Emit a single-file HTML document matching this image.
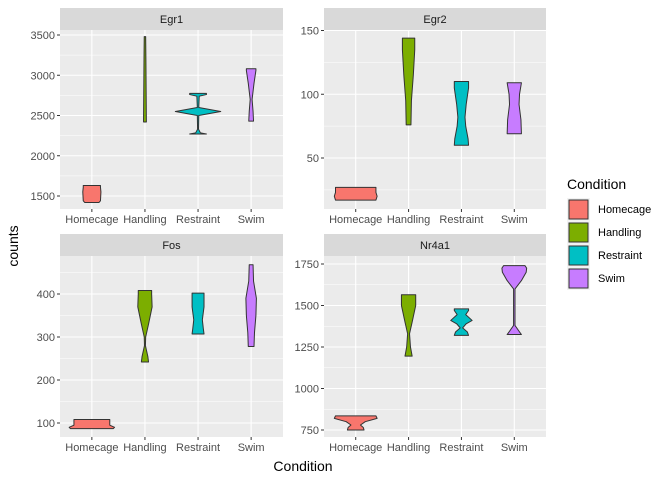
<!DOCTYPE html>
<html><head><meta charset="utf-8"><style>
body{margin:0;background:#fff;font-family:"Liberation Sans",Arial,sans-serif}
</style></head><body>
<svg id="c" width="672" height="480" xmlns="http://www.w3.org/2000/svg" font-family="Liberation Sans, Arial, sans-serif"></svg>
<script>
const categories=["Homecage","Handling","Restraint","Swim"];
const colors=["#F8766D","#7CAE00","#00BFC4","#C77CFF"];
const genes=["Egr1","Egr2","Fos","Nr4a1"];
const ticksEgr1=[1500,2000,2500,3000,3500];
const ticksEgr2=[50,100,150];
const ticksFos=[100,200,300,400];
const ticksNr4a1=[750,1000,1250,1500,1750];
// violin profiles: [value, relative half-width]
const violinsEgr1=[
 [[1420,0.3],[1440,0.36],[1550,0.38],[1610,0.36],[1630,0.36]],
 [[2420,0.06],[2800,0.05],[3200,0.04],[3480,0.03]],
 [[2270,0.35],[2285,0.1],[2330,0.02],[2500,0.03],[2550,0.95],[2600,0.03],[2740,0.05],[2760,0.35],[2775,0.35]],
 [[2430,0.1],[2550,0.08],[2700,0.04],[2900,0.12],[3060,0.2],[3080,0.2]]];
const violinsEgr2=[
 [[17,0.85],[20,0.9],[23,0.85],[27,0.85]],
 [[76,0.1],[95,0.12],[115,0.2],[135,0.26],[144,0.26]],
 [[60,0.3],[65,0.28],[75,0.18],[82,0.15],[92,0.2],[105,0.3],[110,0.3]],
 [[69,0.3],[80,0.28],[92,0.2],[100,0.22],[109,0.3]]];
const violinsFos=[
 [[87,0.9],[90,0.95],[95,0.75],[108,0.75]],
 [[242,0.15],[255,0.12],[280,0.02],[300,0.03],[330,0.15],[370,0.3],[400,0.28],[408,0.28]],
 [[307,0.25],[320,0.22],[340,0.18],[370,0.25],[402,0.25]],
 [[278,0.12],[310,0.14],[350,0.2],[390,0.22],[430,0.1],[468,0.08]]];
const violinsNr4a1=[
 [[750,0.35],[765,0.32],[780,0.2],[800,0.4],[820,0.9],[835,0.85]],
 [[1195,0.15],[1250,0.08],[1330,0.04],[1400,0.15],[1500,0.3],[1565,0.3]],
 [[1320,0.3],[1340,0.25],[1365,0.05],[1390,0.2],[1410,0.45],[1445,0.18],[1470,0.3],[1480,0.3]],
 [[1325,0.3],[1345,0.2],[1380,0.03],[1600,0.03],[1650,0.3],[1700,0.5],[1725,0.52],[1740,0.45]]];

const svg=document.getElementById('c');const NS="http://www.w3.org/2000/svg";
function mk(t,a,p){const e=document.createElementNS(NS,t);for(const k in a)e.setAttribute(k,a[k]);(p||svg).appendChild(e);return e;}
const panels=[
 {g:genes[0],x0:60,x1:283,y0:30,y1:209,ticks:ticksEgr1,t0:3500,p0:35,t1:1500,p1:196,v:violinsEgr1},
 {g:genes[1],x0:324,x1:546,y0:30,y1:209,ticks:ticksEgr2,t0:150,p0:30.5,t1:50,p1:158,v:violinsEgr2},
 {g:genes[2],x0:60,x1:283,y0:256,y1:437,ticks:ticksFos,t0:400,p0:294,t1:100,p1:423,v:violinsFos},
 {g:genes[3],x0:324,x1:546,y0:256,y1:437,ticks:ticksNr4a1,t0:1750,p0:264,t1:750,p1:430,v:violinsNr4a1}];
panels.forEach(P=>{
 const G=mk('g',{});
 
 
 const ys=v=>P.p0+(v-P.t0)*(P.p1-P.p0)/(P.t1-P.t0);
 const bw=(P.x1-P.x0)/4.2;
 const xs=i=>P.x0+(i+0.6)*bw;
 mk('rect',{x:P.x0,y:P.y0,width:P.x1-P.x0,height:P.y1-P.y0,fill:'#EBEBEB'},G);
 const strip=mk('rect',{x:P.x0,y:P.y0-22,width:P.x1-P.x0,height:22,fill:'#D9D9D9'},G);
 
 
 const st=mk('text',{x:(P.x0+P.x1)/2,y:P.y0-7,'text-anchor':'middle','font-size':11,fill:'#1A1A1A'},G);st.textContent=P.g;
 
 
 const step=P.ticks[1]-P.ticks[0];
 const all=[P.ticks[0]-step/2,...P.ticks.flatMap(t=>[t,t+step/2])];
 all.forEach((t,k)=>{const y=ys(t);if(y<P.y0||y>P.y1)return;
  mk('line',{x1:P.x0,x2:P.x1,y1:y,y2:y,stroke:'#fff','stroke-width':k%2?1.1:0.5},G);});
 P.ticks.forEach(t=>{const y=ys(t);
  mk('line',{x1:P.x0-3,x2:P.x0,y1:y,y2:y,stroke:'#333'},G);
  const l=mk('text',{x:P.x0-5,y:y+4,'text-anchor':'end','font-size':11,fill:'#4D4D4D'},G);l.textContent=t;
  
  });
 categories.forEach((c,i)=>{const x=xs(i);
  mk('line',{x1:x,x2:x,y1:P.y0,y2:P.y1,stroke:'#fff','stroke-width':1.1},G);
  mk('line',{x1:x,x2:x,y1:P.y1,y2:P.y1+3,stroke:'#333'},G);
  const l=mk('text',{x:x,y:P.y1+14,'text-anchor':'middle','font-size':11,fill:'#4D4D4D'},G);l.textContent=c;
  
  });
 P.v.forEach((prof,i)=>{const x=xs(i),hw=bw*0.45;
  const r=prof.map(([v,w])=>[x+w*hw,ys(v)]),l=prof.slice().reverse().map(([v,w])=>[x-w*hw,ys(v)]);
  const pts=r.concat(l).map(p=>p.join(',')).join(' ');
  const pg=mk('polygon',{points:pts,fill:colors[i],stroke:'#333','stroke-width':1,'stroke-linejoin':'round'},G);
  
  });
});
const yt=mk('text',{x:0,y:0,transform:'translate(18,246) rotate(-90)','text-anchor':'middle','font-size':14,fill:'#000'});yt.textContent='counts';

const xt=mk('text',{x:303,y:471,'text-anchor':'middle','font-size':14,fill:'#000'});xt.textContent='Condition';

const lt=mk('text',{x:567,y:189,'font-size':14,fill:'#000'});lt.textContent='Condition';

categories.forEach((c,i)=>{const y=198+i*23;
 const g=mk('g',{});
 
 
 mk('rect',{x:567,y:y,width:23,height:23,fill:'#F2F2F2'},g);
 mk('rect',{x:569,y:y+2,width:19,height:19,fill:colors[i],stroke:'#333'},g);
 const t=mk('text',{x:598,y:y+15,'font-size':11,fill:'#000'},g);t.textContent=c;});
</script>
</body></html>
